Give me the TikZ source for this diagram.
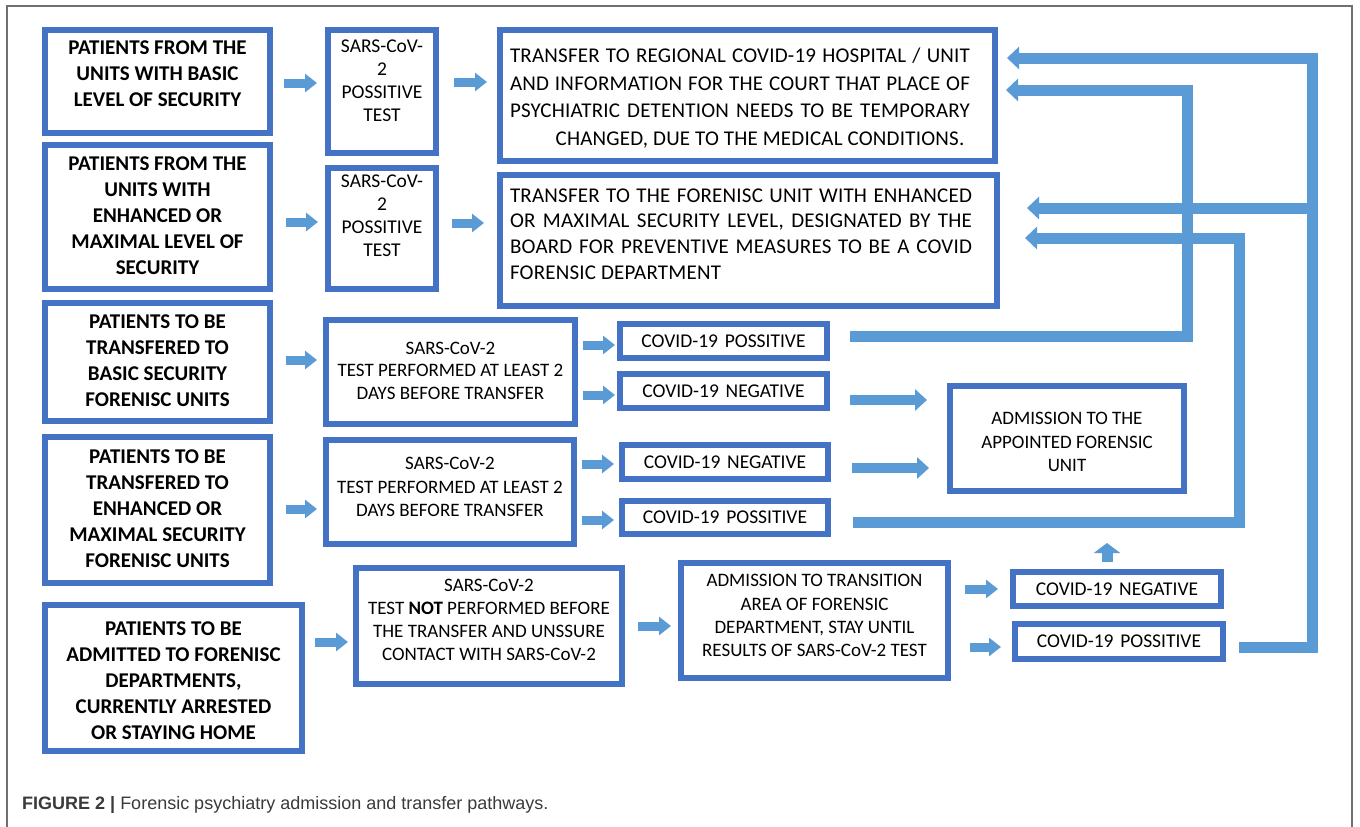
\documentclass[tikz,border=0pt]{standalone}
\usepackage{fontspec}
\setmainfont{Carlito}
\newfontfamily\capfont{Liberation Sans}
\newfontfamily\spacedfont[LetterSpace=1]{Carlito}
\usetikzlibrary{arrows.meta,calc}
\definecolor{boxblue}{HTML}{4472C4}
\definecolor{arrowblue}{HTML}{5B9BD5}
\definecolor{framegray}{HTML}{707070}
\definecolor{capgray}{HTML}{3A3A3A}
\newcommand\tx[2]{\raisebox{#1}[\height][\depth]{\begin{tabular}{@{}c@{}}#2\end{tabular}}}
\tikzset{
  box/.style={draw=boxblue, line width=6pt, fill=white, inner sep=0pt, outer sep=3pt, text=black},
  bigtxt/.style={font=\bfseries\fontsize{21}{26}\selectfont},
  midtxt/.style={font=\fontsize{19.5}{23}\selectfont},
  covtxt/.style={font=\fontsize{19.5}{23}\selectfont},
  sarrow/.style={draw=arrowblue, line width=9pt, -{Triangle[width=18pt,length=12pt]}},
  marrow/.style={draw=arrowblue, line width=10pt, -{Triangle[width=21pt,length=12pt]}},
  uarrow/.style={draw=arrowblue, line width=11pt, -{Triangle[width=26pt,length=10pt]}},
  barrow/.style={draw=arrowblue, line width=11pt, line join=miter, -{Triangle[width=22pt,length=12pt]}},
}
\begin{document}
\begin{tikzpicture}[x=1pt,y=-1pt]
\useasboundingbox (0,0) rectangle (1360,827);
\fill[white] (0,0) rectangle (1360,827);
\draw[framegray, line width=1.2pt] (7,827) -- (7,6) -- (1352,6) -- (1352,827);

% row 1
\node[box, bigtxt, minimum width=225pt, minimum height=103pt] (A1) at (157.5,81.5)
  {\tx{6pt}{PATIENTS FROM THE\\UNITS WITH BASIC\\LEVEL OF SECURITY}};
\node[box, midtxt, minimum width=108pt, minimum height=123pt] (B1) at (382,91.5)
  {\tx{9pt}{SARS-CoV-\\2\\POSSITIVE\\TEST}};
\node[box, font=\spacedfont\fontsize{21}{27.5}\selectfont, minimum width=495pt, minimum height=131pt] (C1) at (747.5,95.5)
  {\kern-15pt\tx{-3pt}{\makebox[460pt][s]{TRANSFER TO REGIONAL COVID-19 HOSPITAL / UNIT}\\
  \makebox[460pt][s]{AND INFORMATION FOR THE COURT THAT PLACE OF}\\
  \makebox[460pt][s]{PSYCHIATRIC DETENTION NEEDS TO BE TEMPORARY}\\
  \makebox[460pt][c]{\hspace{40pt}CHANGED, DUE TO THE MEDICAL CONDITIONS.}}};

% row 2
\node[box, bigtxt, minimum width=225pt, minimum height=144pt] (A2) at (157.5,217)
  {\tx{0pt}{PATIENTS FROM THE\\UNITS WITH\\ENHANCED OR\\MAXIMAL LEVEL OF\\SECURITY}};
\node[box, midtxt, minimum width=108pt, minimum height=121pt] (B2) at (382,228.5)
  {\tx{11pt}{SARS-CoV-\\2\\POSSITIVE\\TEST}};
\node[box, font=\spacedfont\fontsize{21}{25.7}\selectfont, minimum width=497pt, minimum height=131pt] (C2) at (748.5,240.5)
  {\kern-15pt\tx{5pt}{\makebox[462pt][s]{TRANSFER TO THE FORENISC UNIT WITH ENHANCED}\\
  \makebox[462pt][s]{OR MAXIMAL SECURITY LEVEL, DESIGNATED BY THE}\\
  \makebox[462pt][s]{BOARD FOR PREVENTIVE MEASURES TO BE A COVID}\\
  \makebox[462pt][l]{FORENSIC DEPARTMENT}}};

% row 3
\node[box, bigtxt, minimum width=225pt, minimum height=118pt] (A3) at (157.5,362)
  {\tx{0pt}{PATIENTS TO BE\\TRANSFERED TO\\BASIC SECURITY\\FORENISC UNITS}};
\node[box, font=\fontsize{19}{22.5}\selectfont, minimum width=249pt, minimum height=104pt] (B3) at (450.5,372)
  {\tx{0pt}{SARS-CoV-2\\TEST PERFORMED AT LEAST 2\\DAYS BEFORE TRANSFER}};
\node[box, covtxt, minimum width=207pt, minimum height=34pt] (P3) at (723.5,341)
  {COVID-19\hspace{0.12em} POSSITIVE};
\node[box, covtxt, minimum width=207pt, minimum height=34pt] (N3) at (723.5,391)
  {COVID-19\hspace{0.12em} NEGATIVE};

% row 4
\node[box, bigtxt, minimum width=225pt, minimum height=146pt] (A4) at (157.5,510)
  {\tx{0pt}{PATIENTS TO BE\\TRANSFERED TO\\ENHANCED OR\\MAXIMAL SECURITY\\FORENISC UNITS}};
\node[box, font=\fontsize{19}{23.5}\selectfont, minimum width=248pt, minimum height=104pt] (B4) at (450,492)
  {\tx{3.5pt}{SARS-CoV-2\\TEST PERFORMED AT LEAST 2\\DAYS BEFORE TRANSFER}};
\node[box, covtxt, minimum width=206pt, minimum height=34pt] (N4) at (725,462)
  {COVID-19\hspace{0.12em} NEGATIVE};
\node[box, covtxt, minimum width=206pt, minimum height=33pt] (P4) at (725,517.5)
  {COVID-19\hspace{0.12em} POSSITIVE};

\node[box, font=\fontsize{19}{23.5}\selectfont, minimum width=234pt, minimum height=105pt] (ADM) at (1067,438.5)
  {\tx{-5pt}{ADMISSION TO THE\\APPOINTED FORENSIC\\UNIT}};

% row 5
\node[box, bigtxt, minimum width=257pt, minimum height=146pt] (A5) at (173.5,678)
  {\tx{-4pt}{PATIENTS TO BE\\ADMITTED TO FORENISC\\DEPARTMENTS,\\CURRENTLY ARRESTED\\OR STAYING HOME}};
\node[box, font=\fontsize{19}{23}\selectfont, minimum width=266pt, minimum height=116pt] (B5) at (489,626)
  {\tx{4.5pt}{SARS-CoV-2\\TEST {\bfseries NOT} PERFORMED BEFORE\\THE TRANSFER AND UNSSURE\\CONTACT WITH SARS-CoV-2}};
\node[box, font=\fontsize{19}{23.3}\selectfont, minimum width=267pt, minimum height=115pt] (T5) at (814.5,620.5)
  {\tx{3.5pt}{ADMISSION TO TRANSITION\\AREA OF FORENSIC\\DEPARTMENT, STAY UNTIL\\RESULTS OF SARS-CoV-2 TEST}};
\node[box, covtxt, minimum width=208pt, minimum height=34pt] (N5) at (1117,589)
  {COVID-19\hspace{0.12em} NEGATIVE};
\node[box, covtxt, minimum width=208pt, minimum height=35pt] (P5) at (1119,641.5)
  {COVID-19\hspace{0.12em} POSSITIVE};

% small arrows
\draw[sarrow] ($(A1.east)+(11,1.5)$) -- ($(B1.west |- A1.east)+(-8,1.5)$);
\draw[sarrow] ($(B1.east |- A1.east)+(15,0.5)$) -- ($(C1.west |- A1.east)+(-10,0.5)$);
\draw[sarrow] ($(A2.east)+(13,5)$) -- ($(B2.west |- A2.east)+(-7,5)$);
\draw[sarrow] ($(B2.east |- A2.east)+(13,6)$) -- ($(C2.west |- A2.east)+(-13,6)$);
\draw[sarrow] ($(A3.east)+(13,-2)$) -- ($(B3.west |- A3.east)+(-6,-2)$);
\draw[sarrow] ($(B3.east |- P3.west)+(5,4)$) -- ($(P3.west)+(-2,4)$);
\draw[sarrow] ($(B3.east |- N3.west)+(5,4)$) -- ($(N3.west)+(-2,4)$);
\draw[sarrow] ($(A4.east)+(13,-1)$) -- ($(B4.west |- A4.east)+(-6,-1)$);
\draw[sarrow] ($(B4.east |- N4.west)+(5,2)$) -- ($(N4.west)+(-5,2)$);
\draw[sarrow] ($(B4.east |- P4.west)+(5,2.5)$) -- ($(P4.west)+(-5,2.5)$);
\draw[sarrow] ($(A5.east |- B5.west)+(10,16)$) -- ($(B5.west)+(-5,16)$);
\draw[sarrow] ($(B5.east)+(13,0)$) -- ($(T5.west |- B5.east)+(-7,0)$);
\draw[sarrow] ($(T5.east |- N5.west)+(14,0)$) -- ($(N5.west)+(-12,0)$);
\draw[sarrow] ($(T5.east |- P5.west)+(19,5.5)$) -- ($(P5.west)+(-11,5.5)$);

% arrows to admission
\draw[marrow] ($(N3.east)+(20,9)$) -- ($(ADM.west |- N3.east)+(-20,9)$);
\draw[marrow] ($(N4.east)+(21,6)$) -- ($(ADM.west |- N4.east)+(-18,6)$);
\draw[uarrow] ($(N5.north)+(-10,-7)$) -- ($(N5.north)+(-10,-26)$);

% return connectors
\coordinate (k1) at (1187,336);
\coordinate (k2) at (1239,522);
\coordinate (k3) at (1312,647);
\coordinate (k4) at (1316.5,208);
\draw[barrow] ($(P3.east)+(20,-5)$) -- (k1) -- ($(k1 |- C1.north east)+(0,63)$) -- ($(C1.north east)+(8,63)$);
\draw[barrow] ($(P5.east)+(13,5.5)$) -- (k3) -- ($(k3 |- C1.north east)+(0,31)$) -- ($(C1.north east)+(9,31)$);
\draw[barrow] (k4) -- ($(C2.north east)+(27,36)$);
\draw[barrow] ($(P4.east)+(22,4.5)$) -- (k2) -- ($(k2 |- C2.north east)+(0,66)$) -- ($(C2.north east)+(25,66)$);

% caption
\node[anchor=base west, inner sep=0pt, text=capgray, font=\capfont\fontsize{18}{20}\selectfont] (cap) at (22,809)
  {\textbf{FIGURE 2 |} Forensic psychiatry admission and transfer pathways.};
\end{tikzpicture}
\end{document}
